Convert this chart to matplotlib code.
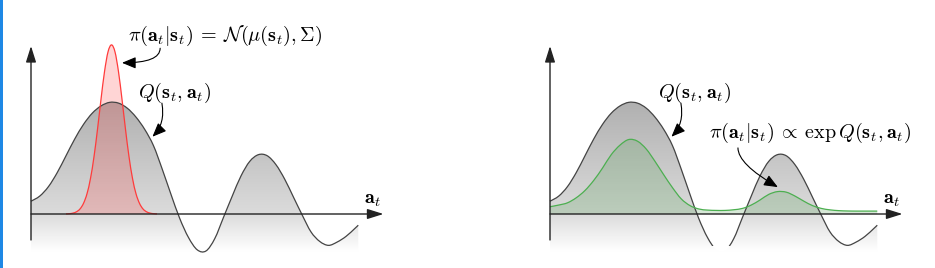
import numpy as np
import matplotlib
matplotlib.use("Agg")
import matplotlib.pyplot as plt
from matplotlib.colors import LinearSegmentedColormap
from matplotlib.patches import PathPatch, Rectangle
from matplotlib.path import Path

plt.rcParams["mathtext.fontset"] = "cm"

# Q(s_t, a_t)
q_x = [0.0, 0.25, 0.5, 0.75, 1.0, 1.25, 1.5, 1.75, 2.0, 2.25, 2.5, 2.75, 3.0,
       3.25, 3.5, 3.75, 4.0, 4.25, 4.5, 4.75, 5.0, 5.25, 5.5, 5.75, 6.0, 6.25,
       6.5, 6.75, 7.0, 7.25, 7.5, 7.75, 8.0, 8.25, 8.5, 8.75, 9.0, 9.25, 9.35]
q_y = [0.114, 0.16, 0.245, 0.37, 0.52, 0.67, 0.80, 0.90, 0.965, 0.997, 0.99,
       0.945, 0.865, 0.755, 0.61, 0.40, 0.175, -0.04, -0.21, -0.32, -0.33,
       -0.22, -0.03, 0.16, 0.34, 0.47, 0.53, 0.52, 0.44, 0.31, 0.15, -0.01,
       -0.16, -0.245, -0.28, -0.25, -0.20, -0.13, -0.10]

# gaussian policy (left)
gauss_x = [1.0, 1.1, 1.2, 1.3, 1.4, 1.5, 1.6, 1.7, 1.8, 1.9, 2.0, 2.1, 2.2, 2.3,
           2.4, 2.5, 2.6, 2.7, 2.8, 2.9, 3.0, 3.1, 3.2, 3.3, 3.4, 3.5, 3.6]
gauss_y = [0.001, 0.003, 0.008, 0.020, 0.045, 0.095, 0.181, 0.318, 0.512,
           0.756, 1.024, 1.270, 1.447, 1.51, 1.447, 1.270, 1.024, 0.756,
           0.512, 0.318, 0.181, 0.095, 0.045, 0.020, 0.008, 0.003, 0.001]

# energy based policy (right), same x as Q
ebm_y = [0.065, 0.08, 0.10, 0.145, 0.21, 0.30, 0.41, 0.53, 0.615, 0.665, 0.65,
         0.58, 0.47, 0.35, 0.235, 0.135, 0.075, 0.045, 0.035, 0.032, 0.032,
         0.038, 0.05, 0.08, 0.125, 0.175, 0.2, 0.195, 0.16, 0.115, 0.075,
         0.05, 0.037, 0.03, 0.027, 0.026, 0.026, 0.026, 0.026]

W, H = 935, 268
fig = plt.figure(figsize=(W / 100, H / 100), dpi=100)

gray_cmap = LinearSegmentedColormap.from_list(
    "qgrad", [(0.0, (1, 1, 1)), (0.254, (0.86, 0.86, 0.86)), (1.0, (0.69, 0.69, 0.69))])


def smooth_verts(x, y):
    # catmull-rom through the points, as cubic bezier segments
    p = np.column_stack([x, y]).astype(float)
    ext = np.vstack([p[0], p, p[-1]])
    verts = [p[0]]
    for i in range(len(p) - 1):
        a, b, c, d = ext[i], ext[i + 1], ext[i + 2], ext[i + 3]
        verts += [b + (c - a) / 6, c - (d - b) / 6, c]
    codes = [Path.MOVETO] + [Path.CURVE4] * (len(verts) - 1)
    return verts, codes


def curve_path(x, y):
    v, c = smooth_verts(x, y)
    return Path(v, c)


def area_path(x, y, bottom):
    v, c = smooth_verts(x, y)
    v = v + [(x[-1], bottom), (x[0], bottom), (x[0], y[0])]
    c = c + [Path.LINETO, Path.LINETO, Path.CLOSEPOLY]
    return Path(v, c)


def gradient_fill(ax, x, y, bottom=-0.36):
    patch = PathPatch(area_path(x, y, bottom), transform=ax.transData,
                      facecolor="none", edgecolor="none")
    ax.add_patch(patch)
    ys = np.linspace(1.0, -0.34, 300).reshape(-1, 1)
    img = ax.imshow(ys, cmap=gray_cmap, vmin=-0.34, vmax=1.0, aspect="auto",
                    extent=[x[0], x[-1], -0.34, 1.0], origin="upper",
                    interpolation="bilinear", zorder=1)
    img.set_clip_path(patch)


def add_line(ax, x, y, color, z):
    line = PathPatch(curve_path(x, y), facecolor="none", edgecolor=color,
                     lw=0.9, zorder=z)
    ax.add_patch(line)
    return line


def add_area(ax, x, y, color, alpha):
    ax.add_patch(PathPatch(area_path(x, y, 0), facecolor=color, alpha=alpha,
                           edgecolor="none", zorder=2))


def draw_axes(ax):
    arrow = dict(arrowstyle="-|>,head_length=0.7,head_width=0.22", lw=1.0,
                 color="#222222", shrinkA=0, shrinkB=0, mutation_scale=14)
    ax.annotate("", xy=(10.07, 0), xytext=(0, 0), arrowprops=arrow, zorder=6)
    ax.annotate("", xy=(0, 1.50), xytext=(0, -0.232), arrowprops=arrow, zorder=6)
    ax.text(9.77, 0.13, r"$\mathbf{a}_t$", fontsize=14.5, ha="center", va="center")


def curved(ax, start, tip, style):
    ax.annotate("", xy=tip, xytext=start,
                arrowprops=dict(arrowstyle="-|>,head_length=0.6,head_width=0.25",
                                connectionstyle=style, lw=0.8, color="black",
                                shrinkA=0, shrinkB=0, mutation_scale=14),
                zorder=7)


# left panel
axL = fig.add_axes([0, 0, 467 / W, 1])
gradient_fill(axL, q_x, q_y)
add_area(axL, gauss_x, gauss_y, "#ff3030", 0.2)
add_line(axL, q_x, q_y, "#444444", 3)
add_line(axL, gauss_x, gauss_y, "#ff3b3b", 4)
draw_axes(axL)
axL.text(5.54, 1.59, r"$\pi(\mathbf{a}_t|\mathbf{s}_t)\:=\:\mathcal{N}(\mu(\mathbf{s}_t), \Sigma)$",
         fontsize=14.5, ha="center", va="center")
axL.text(4.11, 1.08, r"$Q(\mathbf{s}_t, \mathbf{a}_t)$", fontsize=14.5,
         ha="center", va="center")
curved(axL, (3.69, 1.48), (2.60, 1.35), "angle3,angleA=90,angleB=0")
curved(axL, (3.74, 0.99), (3.47, 0.69), "angle3,angleA=100,angleB=45")
axL.set_xlim(-31 / 35, 436 / 35)
axL.set_ylim(-54 / 112, 214 / 112)
axL.axis("off")

# right panel
axR = fig.add_axes([467 / W, 0, 468 / W, 1])
gradient_fill(axR, q_x, q_y)
add_area(axR, q_x, ebm_y, "#4c9a4c", 0.22)
qline = add_line(axR, q_x, q_y, "#444444", 3)
qline.set_clip_path(Rectangle((-3, -0.29), 16, 3, transform=axR.transData))
add_line(axR, q_x, ebm_y, "#4caf50", 4)
draw_axes(axR)
axR.text(4.14, 1.08, r"$Q(\mathbf{s}_t, \mathbf{a}_t)$", fontsize=14.5,
         ha="center", va="center")
axR.text(7.43, 0.72, r"$\pi(\mathbf{a}_t|\mathbf{s}_t)\:\propto\:\exp Q(\mathbf{s}_t, \mathbf{a}_t)$",
         fontsize=14.5, ha="center", va="center")
curved(axR, (3.74, 0.99), (3.47, 0.69), "angle3,angleA=100,angleB=45")
curved(axR, (5.37, 0.59), (6.51, 0.24), "angle3,angleA=90,angleB=-30")
axR.set_xlim(-83 / 35, 385 / 35)
axR.set_ylim(-54 / 112, 214 / 112)
axR.axis("off")

# blue strip on the left edge
fig.add_artist(Rectangle((0, 0), 2.5 / W, 1, transform=fig.transFigure,
                         color="#1e88e5", lw=0))

fig.savefig("out.png", dpi=100)
